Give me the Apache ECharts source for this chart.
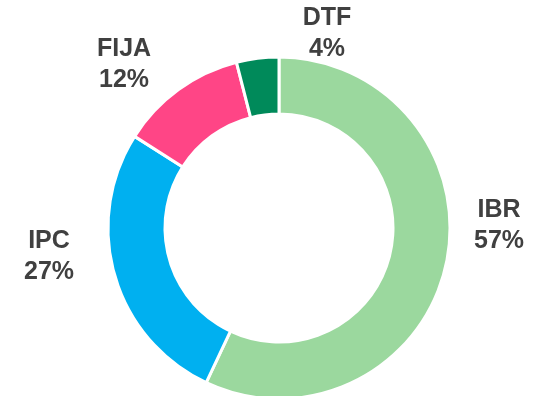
<!DOCTYPE html>
<html>
<head>
<meta charset="utf-8">
<script src="https://cdn.jsdelivr.net/npm/echarts@6/dist/echarts.min.js"></script>
<style>
  html, body { margin: 0; padding: 0; background: #ffffff; }
  #chart { width: 557px; height: 396px; }
</style>
</head>
<body>
<div id="chart"></div>
<script>
// Portfolio split by rate type
const categories = ['IBR', 'IPC', 'FIJA', 'DTF'];
const shares = [57, 27, 12, 4];
const colors = ['#9BD89E', '#00B0F0', '#FF4586', '#008A5A'];

// Label anchor points (block centres) for each slice
const labelSpots = [
  [499, 226],
  [49, 257],
  [124, 65],
  [327, 34]
];

const chart = echarts.init(document.getElementById('chart'));
chart.setOption({
  animation: false,
  series: [{
    type: 'pie',
    center: [279, 228],
    radius: [114, 171],
    startAngle: 90,
    clockwise: true,
    avoidLabelOverlap: false,
    itemStyle: { borderColor: '#ffffff', borderWidth: 3 },
    label: {
      show: true,
      position: 'outside',
      formatter: '{b}\n{d}%',
      color: '#404040',
      fontFamily: 'Liberation Sans, Arial, sans-serif',
      fontWeight: 'bold',
      fontSize: 25,
      lineHeight: 31,
      align: 'center'
    },
    labelLine: { show: false },
    labelLayout: function (p) {
      const s = labelSpots[p.dataIndex];
      return { x: s[0], y: s[1], align: 'center', verticalAlign: 'middle' };
    },
    data: categories.map((c, i) => ({
      name: c,
      value: shares[i],
      itemStyle: { color: colors[i] }
    }))
  }]
});
</script>
</body>
</html>
